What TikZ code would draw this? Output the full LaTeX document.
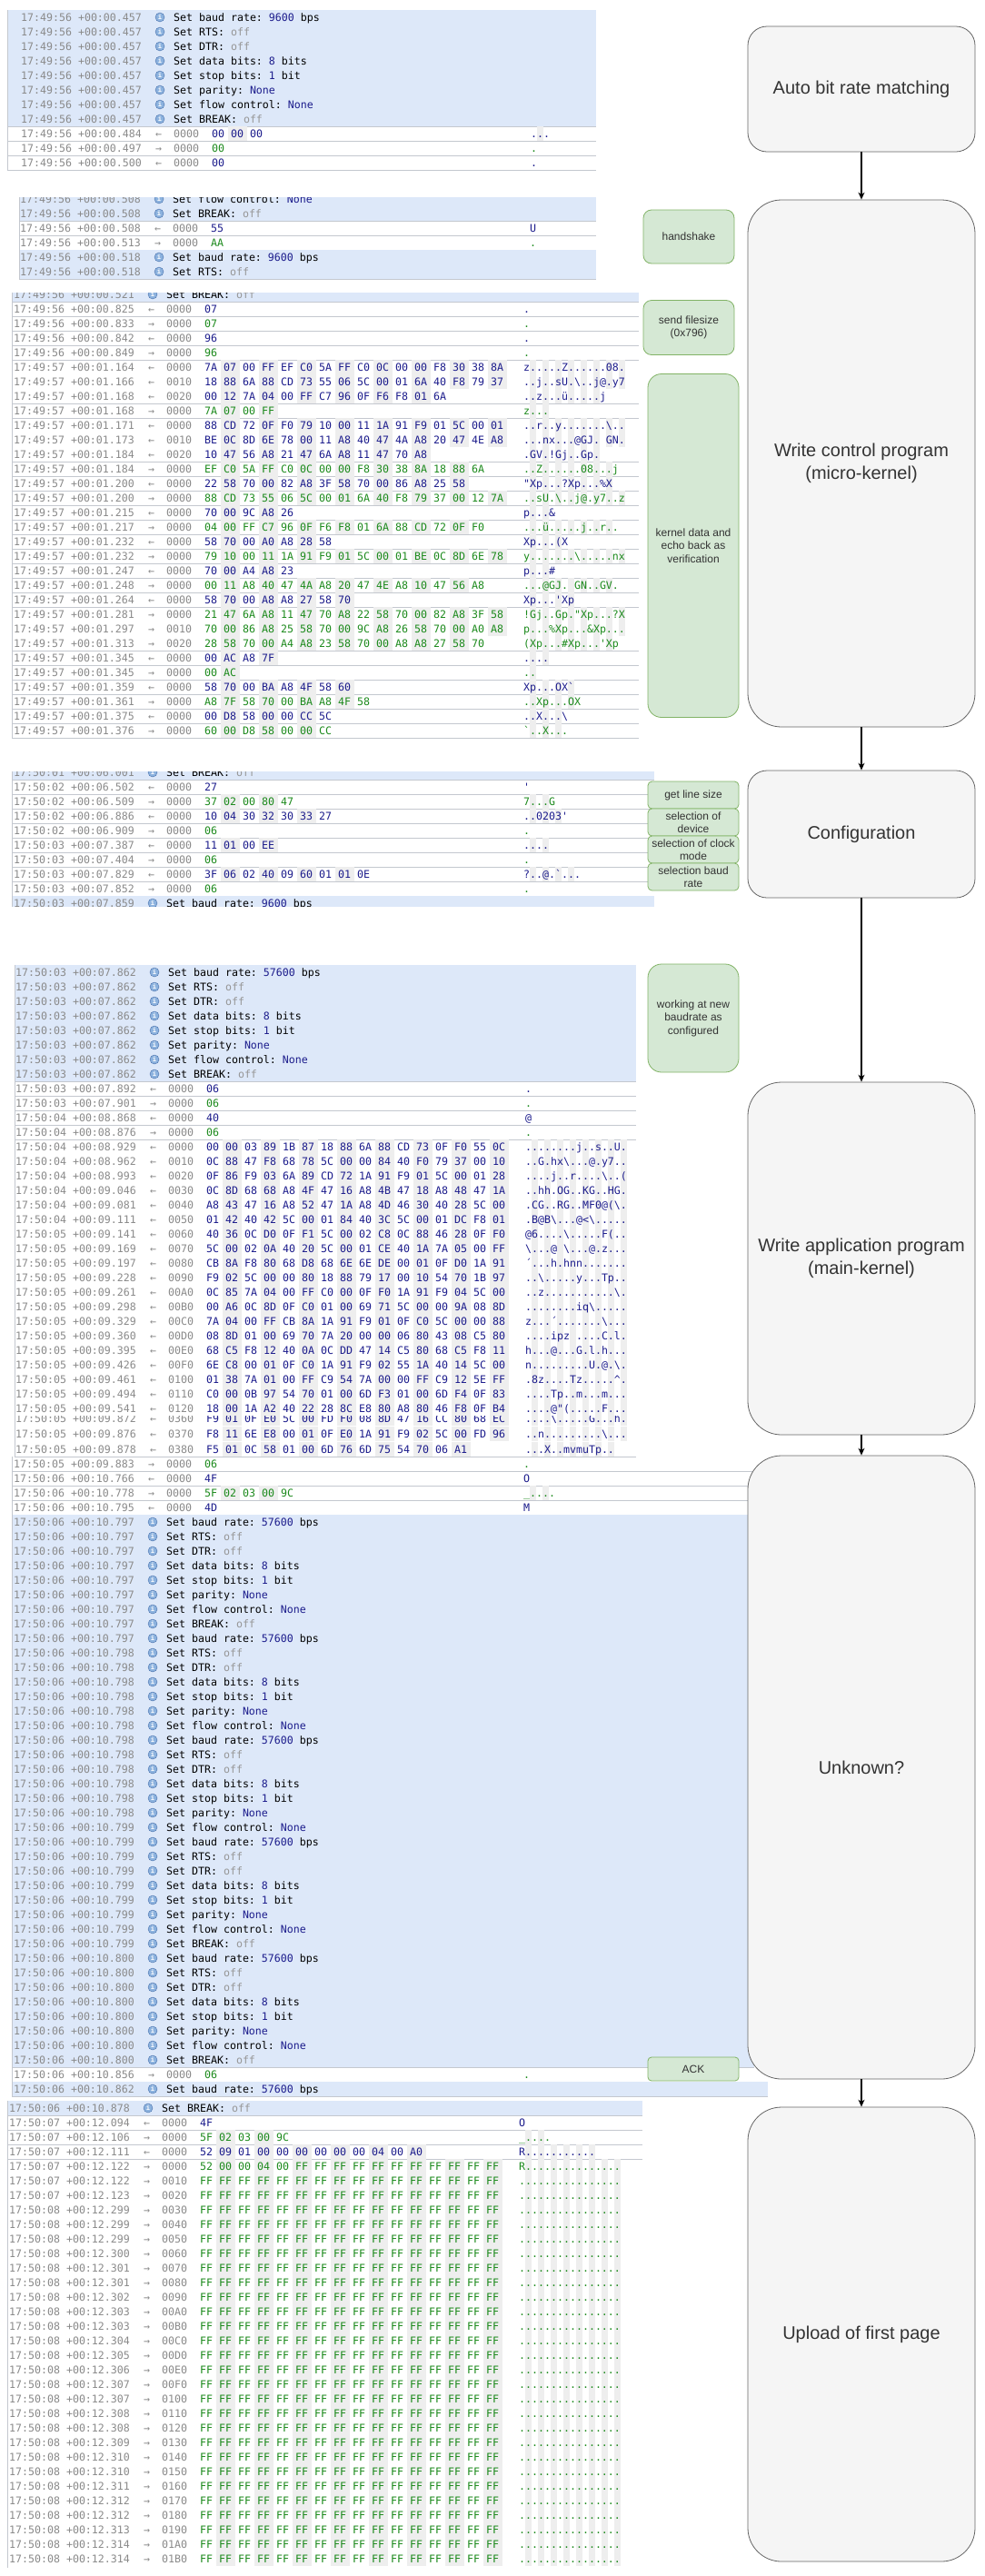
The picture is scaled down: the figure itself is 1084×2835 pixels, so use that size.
\documentclass[tikz,border=0pt]{standalone}
\usepackage{fontspec}
\setmainfont{Liberation Sans}
\newfontfamily\logfont{DejaVu Sans Mono}
\usetikzlibrary{arrows.meta}

\definecolor{infobg}{RGB}{221,232,249}
\definecolor{sepgray}{RGB}{196,200,207}
\definecolor{tsgray}{RGB}{138,138,138}
\definecolor{rxblue}{RGB}{28,28,140}
\definecolor{txgreen}{RGB}{28,138,28}
\definecolor{offgray}{RGB}{150,150,150}
\definecolor{hexshade}{RGB}{238,238,238}
\definecolor{iconfill}{RGB}{140,178,222}
\definecolor{iconline}{RGB}{70,110,170}
\definecolor{stagefill}{RGB}{245,245,245}
\definecolor{stageline}{RGB}{102,102,102}
\definecolor{stagetext}{RGB}{51,51,51}
\definecolor{notefill}{RGB}{213,232,212}
\definecolor{noteline}{RGB}{130,179,102}

\newcommand\logsize{\logfont\fontsize{11.6pt}{14pt}\selectfont\frenchspacing}
\newcommand\navytxt[1]{\textcolor{rxblue}{#1}}
\newcommand\offtxt[1]{\textcolor{offgray}{#1}}
\newcommand\cfgbaud[1]{Set baud rate: \navytxt{#1} bps}
\newcommand\cfgbaudhi{\cfgbaud{57600}}
\newcommand\cfgrts{Set RTS: \offtxt{off}}
\newcommand\cfgdtr{Set DTR: \offtxt{off}}
\newcommand\cfgdata{Set data bits: \navytxt{8} bits}
\newcommand\cfgstop{Set stop bits: \navytxt{1} bit}
\newcommand\cfgpar{Set parity: \navytxt{None}}
\newcommand\cfgflow{Set flow control: \navytxt{None}}
\newcommand\cfgbrk{Set BREAK: \offtxt{off}}
\newcommand\ffrow{FF,FF,FF,FF,FF,FF,FF,FF,FF,FF,FF,FF,FF,FF,FF,FF}

\newcommand\logx{0}
\newcommand\logl{0}
\newcommand\logr{0}
\newcommand\setblock[3]{\renewcommand\logl{#1}\renewcommand\logx{#2}\renewcommand\logr{#3}}

\newcounter{logrow}
\newcommand\inforow[3]{%
  \stepcounter{logrow}%
  \fill[infobg] (\logl,#1-8) rectangle (\logr,#1+8);
  \draw[rowline] (\logl,#1+8) -- (\logr,#1+8);
  \node[stamp] (t\thelogrow) at (\logx,#1) {#2};
  \node[icon] (i\thelogrow) at (\logx+153,#1) {i};
  \node[msg] (m\thelogrow) at (\logx+168,#1) {#3};
}
\newcommand\datarow[8][rowline]{%
  \stepcounter{logrow}%
  \edef\bytelist{#7}%
  \foreach \hx [count=\hn] in \bytelist {
    \ifodd\hn\relax\else
      \fill[hexshade] (\logx+207+21*\hn-21,#2-8) rectangle ++(21,16);
      \fill[hexshade] (\logx+561+7*\hn-7,#2-8) rectangle ++(7,16);
    \fi
    \node[byte,text=#5] (b\thelogrow-\hn) at (\logx+210+21*\hn-21,#2) {\hx};
  }
  \draw[#1] (\logl,#2+8) -- (\logr,#2+8);
  \node[stamp] (t\thelogrow) at (\logx,#2) {#3};
  \node[stamp] (d\thelogrow) at (\logx+148,#2) {#4};
  \node[stamp] (o\thelogrow) at (\logx+168,#2) {#6};
  \node[byte,text=#5] (a\thelogrow) at (\logx+561,#2) {#8};
}
\newcommand\rxrow[6][rowline]{\datarow[#1]{#2}{#3}{←}{rxblue}{#4}{#5}{#6}}
\newcommand\txrow[6][rowline]{\datarow[#1]{#2}{#3}{→}{txgreen}{#4}{#5}{#6}}

\begin{document}
\begin{tikzpicture}[x=1pt,y=-1pt,
    stamp/.style={anchor=west,inner sep=0pt,text height=8.5pt,text depth=0pt,font=\logsize,text=tsgray},
    msg/.style={stamp,text=black},
    byte/.style={stamp},
    icon/.style={circle,draw=iconline,fill=iconfill,inner sep=0pt,minimum size=10pt,text=white,font=\logfont\bfseries\fontsize{7pt}{7pt}\selectfont},
    rowline/.style={draw=sepgray,line width=0.6pt},
    joined/.style={draw=none},
    stage/.style={draw=stageline,fill=stagefill,line width=0.8pt,minimum width=250pt,align=center,text=stagetext,font=\fontsize{20pt}{25pt}\selectfont,rounded corners=37pt},
    note/.style={draw=noteline,fill=notefill,line width=0.8pt,minimum width=100pt,inner sep=1pt,align=center,text=stagetext,font=\fontsize{12pt}{14.5pt}\selectfont,rounded corners=9pt},
    flow/.style={-{Stealth[length=8pt,width=7pt]},line width=1.1pt}]
\useasboundingbox (0,0) rectangle (1084,2835);
\fill[white] (0,0) rectangle (1084,2835);

\setblock{8}{23}{656}
\draw[rowline] (\logl,11) -- (\logr,11);
\inforow{19}{17:49:56 +00:00.457}{\cfgbaud{9600}}
\inforow{35}{17:49:56 +00:00.457}{\cfgrts}
\inforow{51}{17:49:56 +00:00.457}{\cfgdtr}
\inforow{67}{17:49:56 +00:00.457}{\cfgdata}
\inforow{83}{17:49:56 +00:00.457}{\cfgstop}
\inforow{99}{17:49:56 +00:00.457}{\cfgpar}
\inforow{115}{17:49:56 +00:00.457}{\cfgflow}
\inforow{131}{17:49:56 +00:00.457}{\cfgbrk}
\rxrow{147}{17:49:56 +00:00.484}{0000}{00,00,00}{...}
\txrow{163}{17:49:56 +00:00.497}{0000}{00}{.}
\rxrow{179}{17:49:56 +00:00.500}{0000}{00}{.}
\draw[rowline] (\logl,11) -- (\logl,187);

\begin{scope}
\clip (0,217) rectangle (700,307);
\setblock{21}{22}{656}
\inforow{219}{17:49:56 +00:00.508}{\cfgflow}
\inforow{235}{17:49:56 +00:00.508}{\cfgbrk}
\rxrow{251}{17:49:56 +00:00.508}{0000}{55}{U}
\txrow{267}{17:49:56 +00:00.513}{0000}{AA}{.}
\inforow{283}{17:49:56 +00:00.518}{\cfgbaud{9600}}
\inforow{299}{17:49:56 +00:00.518}{\cfgrts}
\draw[rowline] (\logl,217) -- (\logl,307);
\end{scope}

\begin{scope}
\clip (0,322) rectangle (720,812);
\setblock{13}{15}{703}
\inforow{324}{17:49:56 +00:00.521}{\cfgbrk}
\rxrow{340}{17:49:56 +00:00.825}{0000}{07}{.}
\txrow{356}{17:49:56 +00:00.833}{0000}{07}{.}
\rxrow{372}{17:49:56 +00:00.842}{0000}{96}{.}
\txrow{388}{17:49:56 +00:00.849}{0000}{96}{.}
\rxrow[joined]{404}{17:49:57 +00:01.164}{0000}{7A,07,00,FF,EF,C0,5A,FF,C0,0C,00,00,F8,30,38,8A}{z.....Z......08.}
\rxrow[joined]{420}{17:49:57 +00:01.166}{0010}{18,88,6A,88,CD,73,55,06,5C,00,01,6A,40,F8,79,37}{..j..sU.\textbackslash..j@.y7}
\rxrow{436}{17:49:57 +00:01.168}{0020}{00,12,7A,04,00,FF,C7,96,0F,F6,F8,01,6A}{..z...ü.....j}
\txrow{452}{17:49:57 +00:01.168}{0000}{7A,07,00,FF}{z...}
\rxrow[joined]{468}{17:49:57 +00:01.171}{0000}{88,CD,72,0F,F0,79,10,00,11,1A,91,F9,01,5C,00,01}{..r..y.......\textbackslash..}
\rxrow[joined]{484}{17:49:57 +00:01.173}{0010}{BE,0C,8D,6E,78,00,11,A8,40,47,4A,A8,20,47,4E,A8}{...nx...@GJ. GN.}
\rxrow{500}{17:49:57 +00:01.184}{0020}{10,47,56,A8,21,47,6A,A8,11,47,70,A8}{.GV.!Gj..Gp.}
\txrow{516}{17:49:57 +00:01.184}{0000}{EF,C0,5A,FF,C0,0C,00,00,F8,30,38,8A,18,88,6A}{..Z......08...j}
\rxrow{532}{17:49:57 +00:01.200}{0000}{22,58,70,00,82,A8,3F,58,70,00,86,A8,25,58}{"Xp...?Xp...\%X}
\txrow{548}{17:49:57 +00:01.200}{0000}{88,CD,73,55,06,5C,00,01,6A,40,F8,79,37,00,12,7A}{..sU.\textbackslash..j@.y7..z}
\rxrow{564}{17:49:57 +00:01.215}{0000}{70,00,9C,A8,26}{p...\&}
\txrow{580}{17:49:57 +00:01.217}{0000}{04,00,FF,C7,96,0F,F6,F8,01,6A,88,CD,72,0F,F0}{...ü.....j..r..}
\rxrow{596}{17:49:57 +00:01.232}{0000}{58,70,00,A0,A8,28,58}{Xp...(X}
\txrow{612}{17:49:57 +00:01.232}{0000}{79,10,00,11,1A,91,F9,01,5C,00,01,BE,0C,8D,6E,78}{y.......\textbackslash.....nx}
\rxrow{628}{17:49:57 +00:01.247}{0000}{70,00,A4,A8,23}{p...\#}
\txrow{644}{17:49:57 +00:01.248}{0000}{00,11,A8,40,47,4A,A8,20,47,4E,A8,10,47,56,A8}{...@GJ. GN..GV.}
\rxrow{660}{17:49:57 +00:01.264}{0000}{58,70,00,A8,A8,27,58,70}{Xp...'Xp}
\txrow[joined]{676}{17:49:57 +00:01.281}{0000}{21,47,6A,A8,11,47,70,A8,22,58,70,00,82,A8,3F,58}{!Gj..Gp."Xp...?X}
\txrow[joined]{692}{17:49:57 +00:01.297}{0010}{70,00,86,A8,25,58,70,00,9C,A8,26,58,70,00,A0,A8}{p...\%Xp...\&Xp...}
\txrow{708}{17:49:57 +00:01.313}{0020}{28,58,70,00,A4,A8,23,58,70,00,A8,A8,27,58,70}{(Xp...\#Xp...'Xp}
\rxrow{724}{17:49:57 +00:01.345}{0000}{00,AC,A8,7F}{....}
\txrow{740}{17:49:57 +00:01.345}{0000}{00,AC}{..}
\rxrow{756}{17:49:57 +00:01.359}{0000}{58,70,00,BA,A8,4F,58,60}{Xp...OX`}
\txrow{772}{17:49:57 +00:01.361}{0000}{A8,7F,58,70,00,BA,A8,4F,58}{..Xp...OX}
\rxrow{788}{17:49:57 +00:01.375}{0000}{00,D8,58,00,00,CC,5C}{..X...\textbackslash}
\txrow{804}{17:49:57 +00:01.376}{0000}{60,00,D8,58,00,00,CC}{`..X...}
\draw[rowline] (\logl,316) -- (\logl,812);
\end{scope}

\begin{scope}
\clip (0,849) rectangle (730,997);
\setblock{13}{15}{720}
\inforow{850}{17:50:01 +00:06.001}{\cfgbrk}
\rxrow{866}{17:50:02 +00:06.502}{0000}{27}{'}
\txrow{882}{17:50:02 +00:06.509}{0000}{37,02,00,80,47}{7...G}
\rxrow{898}{17:50:02 +00:06.886}{0000}{10,04,30,32,30,33,27}{..0203'}
\txrow{914}{17:50:02 +00:06.909}{0000}{06}{.}
\rxrow{930}{17:50:03 +00:07.387}{0000}{11,01,00,EE}{....}
\txrow{946}{17:50:03 +00:07.404}{0000}{06}{.}
\rxrow{962}{17:50:03 +00:07.829}{0000}{3F,06,02,40,09,60,01,01,0E}{?..@.`...}
\txrow{978}{17:50:03 +00:07.852}{0000}{06}{.}
\inforow{994}{17:50:03 +00:07.859}{\cfgbaud{9600}}
\draw[rowline] (\logl,842) -- (\logl,1002);
\end{scope}

\setblock{16}{17}{700}
\draw[rowline] (\logl,1062) -- (\logr,1062);
\inforow{1070}{17:50:03 +00:07.862}{\cfgbaudhi}
\inforow{1086}{17:50:03 +00:07.862}{\cfgrts}
\inforow{1102}{17:50:03 +00:07.862}{\cfgdtr}
\inforow{1118}{17:50:03 +00:07.862}{\cfgdata}
\inforow{1134}{17:50:03 +00:07.862}{\cfgstop}
\inforow{1150}{17:50:03 +00:07.862}{\cfgpar}
\inforow{1166}{17:50:03 +00:07.862}{\cfgflow}
\inforow{1182}{17:50:03 +00:07.862}{\cfgbrk}
\rxrow{1198}{17:50:03 +00:07.892}{0000}{06}{.}
\txrow{1214}{17:50:03 +00:07.901}{0000}{06}{.}
\rxrow{1230}{17:50:04 +00:08.868}{0000}{40}{@}
\txrow{1246}{17:50:04 +00:08.876}{0000}{06}{.}
\rxrow[joined]{1262}{17:50:04 +00:08.929}{0000}{00,00,03,89,1B,87,18,88,6A,88,CD,73,0F,F0,55,0C}{........j..s..U.}
\rxrow[joined]{1278}{17:50:04 +00:08.962}{0010}{0C,88,47,F8,68,78,5C,00,00,84,40,F0,79,37,00,10}{..G.hx\textbackslash...@.y7..}
\rxrow[joined]{1294}{17:50:04 +00:08.993}{0020}{0F,86,F9,03,6A,89,CD,72,1A,91,F9,01,5C,00,01,28}{....j..r....\textbackslash..(}
\rxrow[joined]{1310}{17:50:04 +00:09.046}{0030}{0C,8D,68,68,A8,4F,47,16,A8,4B,47,18,A8,48,47,1A}{..hh.OG..KG..HG.}
\rxrow[joined]{1326}{17:50:04 +00:09.081}{0040}{A8,43,47,16,A8,52,47,1A,A8,4D,46,30,40,28,5C,00}{.CG..RG..MF0@(\textbackslash.}
\rxrow[joined]{1342}{17:50:04 +00:09.111}{0050}{01,42,40,42,5C,00,01,84,40,3C,5C,00,01,DC,F8,01}{.B@B\textbackslash...@<\textbackslash.....}
\rxrow[joined]{1358}{17:50:05 +00:09.141}{0060}{40,36,0C,D0,0F,F1,5C,00,02,C8,0C,88,46,28,0F,F0}{@6....\textbackslash.....F(..}
\rxrow[joined]{1374}{17:50:05 +00:09.169}{0070}{5C,00,02,0A,40,20,5C,00,01,CE,40,1A,7A,05,00,FF}{\textbackslash...@ \textbackslash...@.z...}
\rxrow[joined]{1390}{17:50:05 +00:09.197}{0080}{CB,8A,F8,80,68,D8,68,6E,6E,DE,00,01,0F,D0,1A,91}{´...h.hnn.......}
\rxrow[joined]{1406}{17:50:05 +00:09.228}{0090}{F9,02,5C,00,00,80,18,88,79,17,00,10,54,70,1B,97}{..\textbackslash.....y...Tp..}
\rxrow[joined]{1422}{17:50:05 +00:09.261}{00A0}{0C,85,7A,04,00,FF,C0,00,0F,F0,1A,91,F9,04,5C,00}{..z...........\textbackslash.}
\rxrow[joined]{1438}{17:50:05 +00:09.298}{00B0}{00,A6,0C,8D,0F,C0,01,00,69,71,5C,00,00,9A,08,8D}{........iq\textbackslash.....}
\rxrow[joined]{1454}{17:50:05 +00:09.329}{00C0}{7A,04,00,FF,CB,8A,1A,91,F9,01,0F,C0,5C,00,00,88}{z...´.......\textbackslash...}
\rxrow[joined]{1470}{17:50:05 +00:09.360}{00D0}{08,8D,01,00,69,70,7A,20,00,00,06,80,43,08,C5,80}{....ipz ....C.l.}
\rxrow[joined]{1486}{17:50:05 +00:09.395}{00E0}{68,C5,F8,12,40,0A,0C,DD,47,14,C5,80,68,C5,F8,11}{h...@...G.l.h...}
\rxrow[joined]{1502}{17:50:05 +00:09.426}{00F0}{6E,C8,00,01,0F,C0,1A,91,F9,02,55,1A,40,14,5C,00}{n.........U.@.\textbackslash.}
\rxrow[joined]{1518}{17:50:05 +00:09.461}{0100}{01,38,7A,01,00,FF,C9,54,7A,00,00,FF,C9,12,5E,FF}{.8z....Tz.....\textasciicircum.}
\rxrow[joined]{1534}{17:50:05 +00:09.494}{0110}{C0,00,0B,97,54,70,01,00,6D,F3,01,00,6D,F4,0F,83}{....Tp..m...m...}
\rxrow[joined]{1550}{17:50:05 +00:09.541}{0120}{18,00,1A,A2,40,22,28,8C,E8,80,A8,80,46,F8,0F,B4}{....@"(.....F...}
\begin{scope}
\clip (0,1558) rectangle (720,1604);
\rxrow[joined]{1561}{17:50:05 +00:09.872}{0360}{F9,01,0F,E0,5C,00,FD,F0,08,8D,47,16,CC,80,68,EC}{....\textbackslash.....G...h.}
\rxrow[joined]{1578}{17:50:05 +00:09.876}{0370}{F8,11,6E,E8,00,01,0F,E0,1A,91,F9,02,5C,00,FD,96}{..n.........\textbackslash...}
\rxrow{1595}{17:50:05 +00:09.878}{0380}{F5,01,0C,58,01,00,6D,76,6D,75,54,70,06,A1}{...X..mvmuTp..}
\end{scope}
\draw[rowline] (\logl,1062) -- (\logl,1603);

\setblock{13}{15}{830}
\txrow{1611}{17:50:05 +00:09.883}{0000}{06}{.}
\rxrow{1627}{17:50:06 +00:10.766}{0000}{4F}{O}
\txrow{1643}{17:50:06 +00:10.778}{0000}{5F,02,03,00,9C}{\_....}
\rxrow{1659}{17:50:06 +00:10.795}{0000}{4D}{M}
\foreach \ms/\cm [count=\n from 0] in {797/\cfgbaudhi,797/\cfgrts,797/\cfgdtr,797/\cfgdata,797/\cfgstop,797/\cfgpar,797/\cfgflow,797/\cfgbrk,797/\cfgbaudhi,798/\cfgrts,798/\cfgdtr,798/\cfgdata,798/\cfgstop,798/\cfgpar,798/\cfgflow,798/\cfgbaudhi,798/\cfgrts,798/\cfgdtr,798/\cfgdata,798/\cfgstop,798/\cfgpar,799/\cfgflow,799/\cfgbaudhi,799/\cfgrts,799/\cfgdtr,799/\cfgdata,799/\cfgstop,799/\cfgpar,799/\cfgflow,799/\cfgbrk,800/\cfgbaudhi,800/\cfgrts,800/\cfgdtr,800/\cfgdata,800/\cfgstop,800/\cfgpar,800/\cfgflow,800/\cfgbrk}
  {\inforow{1675+16*\n}{17:50:06 +00:10.\ms}{\cm}}
\txrow{2283}{17:50:06 +00:10.856}{0000}{06}{.}
\renewcommand\logr{845}
\inforow{2299}{17:50:06 +00:10.862}{\cfgbaudhi}
\draw[rowline] (\logl,1603) -- (\logl,2307);

\begin{scope}
\clip (0,2310) rectangle (720,2826);
\setblock{8}{10}{707}
\inforow{2320}{17:50:06 +00:10.878}{\cfgbrk}
\rxrow{2336}{17:50:07 +00:12.094}{0000}{4F}{O}
\txrow{2352}{17:50:07 +00:12.106}{0000}{5F,02,03,00,9C}{\_....}
\rxrow{2368}{17:50:07 +00:12.111}{0000}{52,09,01,00,00,00,00,00,00,04,00,A0}{R...........}
\txrow[joined]{2384}{17:50:07 +00:12.122}{0000}{52,00,00,04,00,FF,FF,FF,FF,FF,FF,FF,FF,FF,FF,FF}{R...............}
\foreach \mm/\ms/\off [count=\n from 5] in {07/122/0010,07/123/0020,08/299/0030,08/299/0040,08/299/0050,08/300/0060,08/301/0070,08/301/0080,08/302/0090,08/303/00A0,08/303/00B0,08/304/00C0,08/305/00D0,08/306/00E0,08/307/00F0,08/307/0100,08/308/0110,08/308/0120,08/309/0130,08/310/0140,08/310/0150,08/311/0160,08/312/0170,08/312/0180,08/313/0190,08/314/01A0,08/314/01B0}
  {\txrow[joined]{2320+16*\n}{17:50:\mm{} +00:12.\ms}{\off}{\ffrow}{................}}
\draw[rowline] (\logl,2312) -- (\logl,2826);
\end{scope}

\node[note, minimum height=59pt] (handshake) at (758,260.5) {handshake};
\node[note, minimum height=60pt] (filesize) at (758,360.5) {send filesize\\(0x796)};
\node[note, minimum height=378pt, rounded corners=15pt] (kerneldata) at (763,600.5) {kernel data and\\echo back as\\verification};
\node[note, minimum height=30pt, inner sep=0pt, rounded corners=4.5pt] (linesize) at (763,875) {get line size};
\node[note, minimum height=30pt, inner sep=0pt, rounded corners=4.5pt] (device) at (763,905) {selection of\\device};
\node[note, minimum height=30pt, inner sep=0pt, rounded corners=4.5pt] (clockmode) at (763,935) {selection of clock\\mode};
\node[note, minimum height=30pt, inner sep=0pt, rounded corners=4.5pt] (baudsel) at (763,965) {selection baud\\rate};
\node[note, minimum height=119pt, rounded corners=15pt] (newbaud) at (763,1120.5) {working at new\\baudrate as\\configured};
\node[note, minimum height=26pt, inner sep=0pt, rounded corners=4pt] (ack) at (763,2277) {ACK};

\node[stage, minimum height=138pt, rounded corners=21pt] (autobaud) at (948,98) {Auto bit rate matching};
\node[stage, minimum height=580pt] (microkernel) at (948,510) {Write control program\\(micro-kernel)};
\node[stage, minimum height=140pt, rounded corners=21pt] (config) at (948,918) {Configuration};
\node[stage, minimum height=388pt] (mainkernel) at (948,1385) {Write application program\\(main-kernel)};
\node[stage, minimum height=686pt] (unknown) at (948,1945) {Unknown?};
\node[stage, minimum height=500pt] (firstpage) at (948,2569) {Upload of first page};

\draw[flow] (autobaud) -- (microkernel);
\draw[flow] (microkernel) -- (config);
\draw[flow] (config) -- (mainkernel);
\draw[flow] (mainkernel) -- (unknown);
\draw[flow] (unknown) -- (firstpage);
\end{tikzpicture}
\end{document}
